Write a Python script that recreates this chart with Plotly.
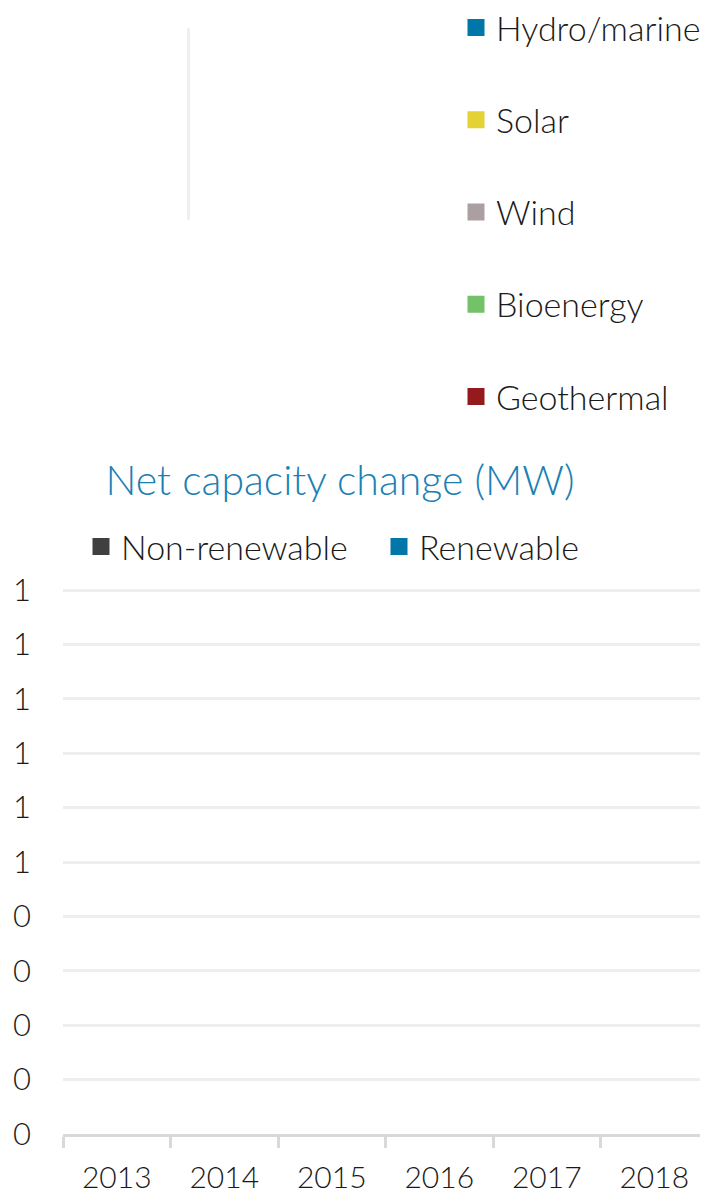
import plotly.graph_objects as go

# ---------------- Data ---------------- #
years = ['2013', '2014', '2015', '2016', '2017', '2018']
non_renewable = [None, None, None, None, None, None]
renewable = [None, None, None, None, None, None]

tech_names = ['Hydro/marine', 'Solar', 'Wind', 'Bioenergy', 'Geothermal']
tech_colors = ['#0077a8', '#e4d235', '#ab9fa2', '#73c168', '#941a1d']
tech_values = [None, None, None, None, None]

y_ticks = [0, 0.1, 0.2, 0.3, 0.4, 0.5, 0.6, 0.7, 0.8, 0.9, 1.0]
y_ticktext = ['0', '0', '0', '0', '0', '1', '1', '1', '1', '1', '1']

FONT = "Lato"
# page has an 8px body margin, so the figure is a bit smaller than the window
W, H = 700, 1187
PLOT_H = 1126  # plot area height (t=0, b=61)

fig = go.Figure()

# ---------------- Top (empty) chart by technology ---------------- #
for name, colour, val in zip(tech_names, tech_colors, tech_values):
    fig.add_trace(go.Bar(
        x=[name], y=[val], name=name, marker_color=colour,
        marker_line=dict(color=colour, width=6),
        xaxis='x2', yaxis='y2', legend='legend', legendgroup=name
    ))

# ---------------- Net capacity change ---------------- #
fig.add_trace(go.Bar(x=years, y=non_renewable, name='Non-renewable',
                     marker_color='#404040', marker_line=dict(color='#404040', width=6),
                     legend='legend2'))
fig.add_trace(go.Bar(x=years, y=renewable, name='Renewable',
                     marker_color='#0077a8', marker_line=dict(color='#0077a8', width=6),
                     legend='legend2'))

# ---------------- Styling ---------------- #
fig.update_layout(
    width=W, height=H, barmode='stack',
    paper_bgcolor='white', plot_bgcolor='white',
    margin=dict(l=55, r=0, t=0, b=61, autoexpand=False),
    font=dict(family=FONT, color='#1a1a1a', size=28, weight=300),
    title=dict(text='Net capacity change (MW)', x=332 / W, xref='container', xanchor='center',
               y=1 - 473 / H, yref='container', yanchor='middle', automargin=False,
               font=dict(family=FONT, size=41, color='#1a80b4', weight=300)),
    legend=dict(x=448 / W, xref='container', xanchor='left',
                y=1 + 9 / PLOT_H, yref='paper', yanchor='top',
                orientation='v', tracegroupgap=45, bgcolor='rgba(0,0,0,0)',
                font=dict(family=FONT, size=34, color='#1a1a1a', weight=300)),
    legend2=dict(x=73 / W, xref='container', xanchor='left',
                 y=1 - 539 / H, yref='container', yanchor='middle',
                 orientation='h', traceorder='normal', bgcolor='rgba(0,0,0,0)',
                 entrywidth=253, entrywidthmode='pixels',
                 font=dict(family=FONT, size=34, color='#1a1a1a', weight=300)),
    xaxis=dict(type='category', range=[-0.5, 5.5], showline=True, linecolor='#d9d9d9',
               linewidth=3, ticks='outside', tickson='boundaries', ticklen=11,
               tickcolor='#d9d9d9', tickwidth=3, showgrid=False, ticklabelstandoff=15,
               automargin=False,
               tickfont=dict(family=FONT, size=30, color='#1a1a1a', weight=300)),
    yaxis=dict(domain=[0, 544 * 1.02 / PLOT_H], range=[0, 1.02], tickvals=y_ticks,
               ticktext=y_ticktext, showgrid=True, gridcolor='#eeeeee', gridwidth=3,
               zeroline=False, showline=False, ticklabelstandoff=31, automargin=False,
               tickfont=dict(family=FONT, size=31, color='#1a1a1a', weight=300)),
    xaxis2=dict(domain=[(182 - 55) / 645, 0.55], anchor='y2', visible=False),
    yaxis2=dict(domain=[(PLOT_H - 212) / PLOT_H, (PLOT_H - 20) / PLOT_H], anchor='x2',
                showline=True, linecolor='#efefef', linewidth=3, showgrid=False,
                zeroline=False, showticklabels=False, ticks='', automargin=False),
)

fig.write_html("out.html")
